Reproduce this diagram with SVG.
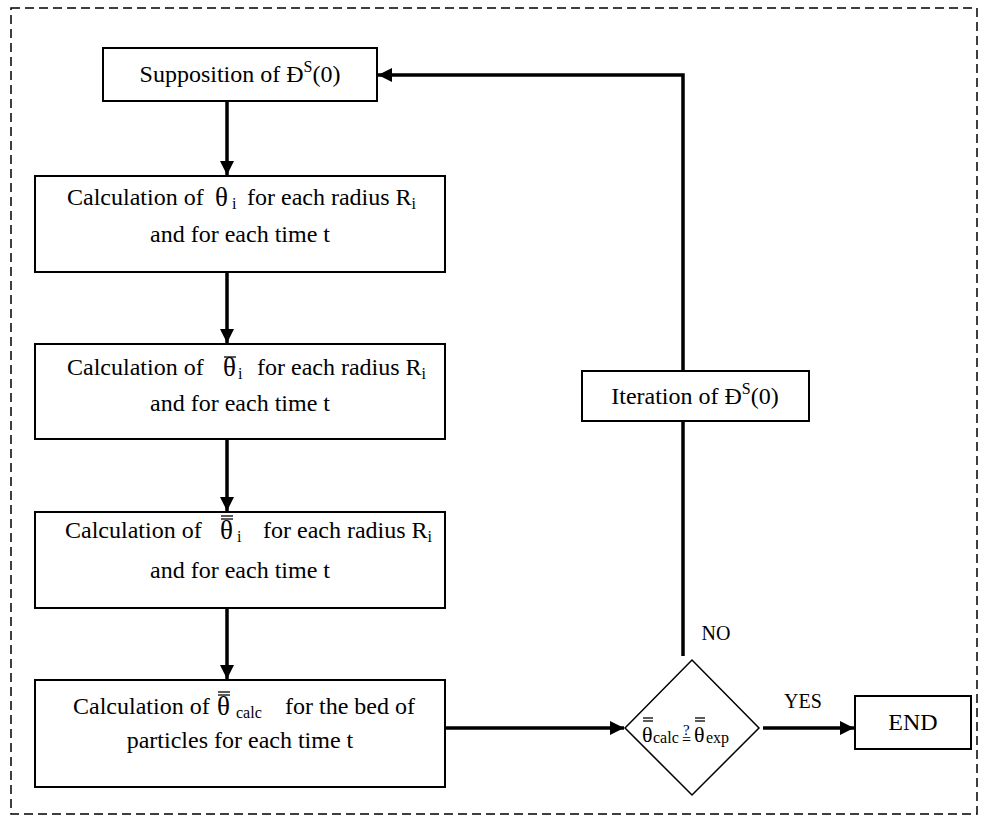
<svg xmlns="http://www.w3.org/2000/svg" width="984" height="825" viewBox="0 0 984 825" font-family="'Liberation Serif', Tinos, 'Times New Roman', 'DejaVu Serif', serif">
<style>
text{font-family:'Liberation Serif', Tinos, 'Times New Roman', 'DejaVu Serif', serif;fill:#000}
.t{font-size:24px}
.th{font-size:27px}
.s{font-size:16px}
.lbl{font-size:20px}
.box{fill:#fff;stroke:#000;stroke-width:2}
.con{fill:none;stroke:#000;stroke-width:3.5}
.ov{stroke:#000;stroke-width:1.3}
</style>
<defs>
<marker id="ah" markerUnits="userSpaceOnUse" markerWidth="16" markerHeight="16" refX="14" refY="7" orient="auto">
<path d="M0,0 L14,7 L0,14 z" fill="#000"/>
</marker>
</defs>
<rect x="11" y="8" width="966" height="806" fill="none" stroke="#000" stroke-width="1.5" stroke-dasharray="9 5"/>

<g id="connectors">
<line class="con" x1="227" y1="101" x2="227" y2="175" marker-end="url(#ah)"/>
<line class="con" x1="227" y1="272" x2="227" y2="343" marker-end="url(#ah)"/>
<line class="con" x1="227" y1="439" x2="227" y2="511" marker-end="url(#ah)"/>
<line class="con" x1="227" y1="608" x2="227" y2="679" marker-end="url(#ah)"/>
<line class="con" x1="446" y1="728" x2="624" y2="728" marker-end="url(#ah)"/>
<line class="con" x1="763" y1="728" x2="854" y2="728" marker-end="url(#ah)"/>
<line class="con" x1="683" y1="656" x2="683" y2="421"/>
<polyline class="con" points="683,371 683,75 378,75" marker-end="url(#ah)"/>
</g>

<g id="supposition">
<rect class="box" x="103" y="48" width="274" height="53"/>
<text class="t" x="240" y="82" text-anchor="middle">Supposition of Đ<tspan class="s" dy="-10">S</tspan><tspan dy="10">(0)</tspan></text>
</g>

<g id="calc-theta">
<rect class="box" x="35" y="176" width="410" height="96"/>
<text class="t" x="67" y="205">Calculation of</text>
<text class="th" x="215" y="206">θ</text>
<text class="s" x="232" y="209">i</text>
<text class="t" x="247" y="205">for each radius R<tspan class="s" dy="4">i</tspan></text>
<text class="t" x="240" y="242" text-anchor="middle">and for each time t</text>
</g>

<g id="calc-theta-bar">
<rect class="box" x="35" y="344" width="410" height="95"/>
<text class="t" x="67" y="375">Calculation of</text>
<text class="th" x="223" y="376">θ</text>
<line class="ov" x1="224" y1="357" x2="236" y2="357"/>
<text class="s" x="238" y="379">i</text>
<text class="t" x="257" y="375">for each radius R<tspan class="s" dy="4">i</tspan></text>
<text class="t" x="240" y="411" text-anchor="middle">and for each time t</text>
</g>

<g id="calc-theta-dbar">
<rect class="box" x="35" y="512" width="410" height="96"/>
<text class="t" x="65" y="538">Calculation of</text>
<text class="th" x="220" y="539">θ</text>
<line class="ov" x1="221" y1="516" x2="233" y2="516"/>
<line class="ov" x1="221" y1="519" x2="233" y2="519"/>
<text class="s" x="237" y="542">i</text>
<text class="t" x="263" y="538">for each radius R<tspan class="s" dy="4">i</tspan></text>
<text class="t" x="240" y="578" text-anchor="middle">and for each time t</text>
</g>

<g id="calc-bed">
<rect class="box" x="35" y="680" width="410" height="107"/>
<text class="t" x="73" y="714">Calculation of</text>
<text class="th" x="217" y="715">θ</text>
<line class="ov" x1="218" y1="692" x2="230" y2="692"/>
<line class="ov" x1="218" y1="695" x2="230" y2="695"/>
<text class="s" x="236" y="718">calc</text>
<text class="t" x="285" y="714">for the bed of</text>
<text class="t" x="240" y="748" text-anchor="middle">particles for each time t</text>
</g>

<g id="iteration">
<rect class="box" x="582" y="371" width="227" height="50"/>
<text class="t" x="695" y="404" text-anchor="middle">Iteration of Đ<tspan class="s" dy="-10">S</tspan><tspan dy="10">(0)</tspan></text>
</g>

<g id="decision">
<polygon points="692,660 759,728 692,795 625,728" fill="#fff" stroke="#000" stroke-width="1.5"/>
<text x="642" y="742" font-size="22">θ</text>
<line class="ov" x1="643" y1="718" x2="653" y2="718"/>
<line class="ov" x1="643" y1="721" x2="653" y2="721"/>
<text x="653" y="743" font-size="16">calc</text>
<text x="683" y="735" font-size="15">?</text>
<text x="682" y="745" font-size="16">=</text>
<text x="694" y="742" font-size="22">θ</text>
<line class="ov" x1="695" y1="718" x2="705" y2="718"/>
<line class="ov" x1="695" y1="721" x2="705" y2="721"/>
<text x="706" y="743" font-size="16">exp</text>
</g>

<g id="end">
<rect class="box" x="855" y="696" width="116" height="53"/>
<text class="t" x="913" y="730" text-anchor="middle">END</text>
</g>

<text class="lbl" x="803" y="708" text-anchor="middle">YES</text>
<text class="lbl" x="716" y="640" text-anchor="middle">NO</text>
</svg>
